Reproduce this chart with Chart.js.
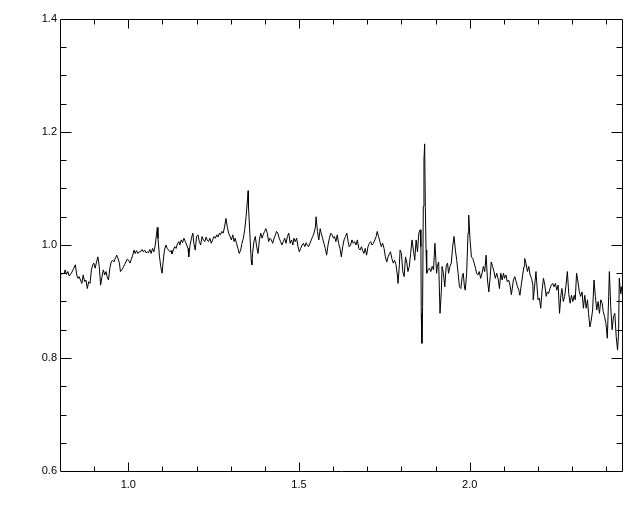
<!DOCTYPE html>
<html>
<head>
<meta charset="utf-8">
<script src="https://cdn.jsdelivr.net/npm/chart.js@4/dist/chart.umd.min.js"></script>
<style>
  html, body { margin: 0; background: #fff; }
</style>
</head>
<body>
<canvas id="spec" width="640" height="512"></canvas>
<script>
// Spectrum
const wavelength = [
  0.800,0.802,0.806,0.812,0.815,0.819,0.823,0.827,0.833,0.839,0.845,0.849,
  0.853,0.856,0.860,0.864,0.868,0.872,0.876,0.880,0.884,0.888,0.892,0.896,
  0.899,0.903,0.907,0.911,0.915,0.919,0.923,0.927,0.931,0.935,0.938,0.942,
  0.946,0.950,0.954,0.958,0.962,0.966,0.970,0.974,0.977,0.981,0.985,0.989,
  0.993,0.997,1.001,1.005,1.009,1.013,1.017,1.020,1.024,1.028,1.032,1.036,
  1.040,1.044,1.048,1.052,1.056,1.059,1.063,1.067,1.071,1.075,1.079,1.083,
  1.085,1.087,1.091,1.095,1.099,1.102,1.106,1.110,1.114,1.118,1.122,1.126,
  1.128,1.132,1.136,1.140,1.144,1.148,1.151,1.155,1.159,1.163,1.167,1.171,
  1.175,1.177,1.181,1.185,1.189,1.192,1.196,1.200,1.204,1.208,1.212,1.216,
  1.220,1.224,1.228,1.231,1.235,1.239,1.243,1.247,1.251,1.255,1.259,1.263,
  1.267,1.270,1.274,1.278,1.282,1.286,1.290,1.294,1.298,1.302,1.306,1.310,
  1.313,1.317,1.321,1.325,1.329,1.333,1.337,1.341,1.345,1.349,1.351,1.352,
  1.356,1.360,1.362,1.364,1.368,1.372,1.376,1.380,1.384,1.388,1.392,1.395,
  1.399,1.403,1.407,1.411,1.415,1.419,1.423,1.427,1.431,1.434,1.438,1.442,
  1.446,1.450,1.454,1.458,
  1.462,1.466,1.470,1.474,1.478,1.482,1.485,1.489,1.493,1.497,1.501,1.505,
  1.509,1.513,1.517,1.521,1.524,1.528,1.532,1.536,1.540,1.544,1.548,1.550,
  1.554,1.558,1.562,1.565,1.569,1.573,1.577,1.581,1.585,1.589,1.593,1.597,
  1.601,1.604,1.608,1.612,1.616,1.620,1.624,1.628,1.632,1.636,1.640,1.644,
  1.647,1.651,1.655,1.659,1.663,1.667,1.671,1.675,1.679,1.683,1.686,1.690,
  1.694,1.698,1.702,1.706,1.710,1.714,1.718,1.722,1.726,1.729,1.733,1.737,
  1.741,1.745,1.749,1.753,1.757,1.761,1.765,1.768,1.772,1.776,1.780,1.784,
  1.788,1.790,1.794,
  1.796,1.800,1.804,1.808,1.812,1.816,1.819,1.823,1.827,1.831,1.835,1.839,
  1.843,1.847,1.851,1.855,1.857,1.858,1.860,1.862,1.864,1.866,1.868,1.870,
  1.872,1.874,1.878,1.882,1.886,1.890,1.894,1.898,1.901,1.903,1.905,1.909,
  1.913,1.917,1.919,1.923,1.927,1.931,1.935,1.938,1.942,1.946,1.950,1.954,
  1.958,1.962,1.966,1.970,1.974,1.978,1.981,1.985,1.987,1.991,1.995,1.997,
  2.001,2.005,2.009,2.013,2.017,2.020,2.024,2.028,2.032,2.036,2.040,2.044,
  2.048,2.052,2.056,2.060,2.063,2.067,2.071,2.075,2.079,2.083,2.087,2.091,
  2.095,2.099,2.102,2.106,2.110,2.114,2.118,2.122,
  2.128,2.132,2.136,2.140,2.144,2.147,2.151,2.155,2.159,2.161,2.165,2.169,
  2.173,2.177,2.181,2.185,2.186,2.190,2.194,2.196,2.200,2.204,2.208,2.212,
  2.216,2.220,2.224,2.227,2.231,2.235,2.239,2.243,2.247,2.251,2.255,2.259,
  2.263,2.267,2.270,2.274,2.278,2.282,2.286,2.290,2.294,2.298,2.302,2.306,
  2.309,2.313,2.317,2.321,2.325,2.329,2.333,2.337,2.341,2.345,2.348,2.352,
  2.356,2.360,2.364,2.368,2.372,2.376,2.380,2.384,2.388,2.391,2.395,2.399,
  2.403,2.407,2.409,2.413,2.417,2.421,2.425,2.429,2.433,2.436,2.438,2.442,
  2.444,2.448
];

const flux = [
  0.940,0.947,0.950,0.949,0.956,0.948,0.953,0.945,0.950,0.957,0.965,0.947,
  0.941,0.944,0.938,0.932,0.947,0.935,0.938,0.923,0.935,0.932,0.956,0.965,
  0.968,0.959,0.970,0.979,0.962,0.929,0.944,0.956,0.947,0.953,0.944,0.938,
  0.959,0.970,0.973,0.970,0.976,0.982,0.976,0.968,0.953,0.956,0.960,0.965,
  0.970,0.975,0.973,0.968,0.975,0.982,0.991,0.985,0.990,0.985,0.988,0.988,
  0.992,0.988,0.991,0.986,0.988,0.986,0.992,0.985,0.994,0.988,1.000,1.021,
  1.031,1.012,0.982,0.962,0.950,0.970,0.991,1.000,0.994,0.991,0.988,0.990,
  0.984,0.991,0.997,0.994,1.002,1.006,1.000,1.009,1.004,1.012,1.006,1.000,
  0.994,0.979,1.000,1.012,1.021,1.003,0.991,1.015,1.018,1.006,1.000,1.015,
  1.009,1.006,1.014,1.009,1.006,1.012,1.003,1.009,1.015,1.012,1.018,1.014,
  1.021,1.018,1.024,1.021,1.032,1.047,1.032,1.021,1.015,1.009,1.018,1.006,
  1.012,1.003,0.994,0.985,0.991,1.003,1.012,1.027,1.050,1.080,1.096,1.068,
  1.021,0.973,0.965,0.985,1.006,1.015,0.997,0.985,1.009,1.021,1.012,1.018,
  1.024,1.029,1.021,1.006,1.012,1.009,1.003,1.012,1.018,1.024,1.021,1.012,
  1.006,1.000,1.006,1.012,
  1.003,1.015,1.021,1.003,1.009,1.000,1.012,1.006,1.012,0.997,0.988,0.994,
  1.000,1.003,0.997,1.004,1.000,0.997,1.003,1.009,1.015,1.021,1.032,1.050,
  1.024,1.009,1.029,1.021,1.012,1.003,0.994,0.982,1.000,1.012,1.021,1.018,
  1.012,1.015,1.006,1.018,1.003,0.994,0.979,0.997,1.009,1.015,1.021,1.006,
  0.997,1.000,1.009,1.003,1.006,1.000,1.009,0.994,0.991,0.997,0.991,0.985,
  0.994,0.982,0.997,1.003,1.006,1.000,1.003,1.009,1.015,1.024,1.015,1.006,
  0.997,1.003,0.994,0.979,0.970,0.979,0.985,0.988,0.976,0.968,0.973,0.965,
  0.947,0.932,0.965,
  0.991,0.985,0.953,0.944,0.979,0.968,0.953,0.962,0.985,1.009,0.991,0.973,
  1.009,0.988,1.021,1.027,0.997,0.879,0.826,0.891,1.068,1.150,1.179,1.068,
  0.991,0.950,0.956,0.959,0.953,0.962,0.956,1.003,0.973,0.950,0.962,0.970,
  0.879,0.920,0.962,0.950,0.926,0.962,0.968,0.950,0.962,0.968,0.997,1.015,
  0.991,0.973,0.950,0.926,0.923,0.944,0.950,0.923,0.920,0.950,1.021,1.053,
  1.009,0.979,0.976,0.968,0.959,0.950,0.947,0.953,0.941,0.950,0.962,0.953,
  0.982,0.938,0.917,0.944,0.970,0.962,0.953,0.941,0.950,0.941,0.923,0.950,
  0.938,0.950,0.941,0.947,0.935,0.938,0.929,0.912,
  0.938,0.944,0.935,0.926,0.920,0.911,0.929,0.947,0.962,0.976,0.967,0.953,
  0.962,0.947,0.941,0.929,0.903,0.926,0.953,0.935,0.903,0.906,0.888,0.920,
  0.941,0.929,0.909,0.917,0.914,0.923,0.929,0.932,0.926,0.932,0.920,0.929,
  0.879,0.911,0.923,0.900,0.909,0.929,0.953,0.914,0.897,0.911,0.900,0.911,
  0.903,0.950,0.935,0.917,0.909,0.917,0.888,0.911,0.888,0.903,0.879,0.855,
  0.867,0.885,0.938,0.909,0.885,0.900,0.879,0.903,0.897,0.882,0.873,0.861,
  0.835,0.909,0.953,0.891,0.850,0.873,0.879,0.838,0.814,0.844,0.941,0.914,
  0.926,0.908
];

// axis ranges and labelled ticks
const xRange = [0.8, 2.446];
const yRange = [0.6, 1.4];
const xLabels = [1.0, 1.5, 2.0];
const yLabels = [0.6, 0.8, 1.0, 1.2, 1.4];

const tickFont = { family: 'Liberation Sans', size: 11 };

// box frame with inward major/minor ticks on all four sides
const boxTicks = {
  id: 'boxTicks',
  afterDraw(chart) {
    const { ctx, chartArea: a, scales: { x, y } } = chart;
    const L = a.left + 0.5, R = a.right + 0.5, T = a.top + 0.5, B = a.bottom + 0.5;
    ctx.save();
    ctx.strokeStyle = '#000';
    ctx.lineWidth = 1;
    ctx.beginPath();
    ctx.rect(L, T, R - L, B - T);
    // x: minor every 0.1, major every 0.5
    for (let i = 9; i <= 24; i++) {
      const px = Math.round(x.getPixelForValue(i / 10)) + 0.5;
      const len = i % 5 === 0 ? 9 : 5;
      ctx.moveTo(px, B); ctx.lineTo(px, B - len);
      ctx.moveTo(px, T); ctx.lineTo(px, T + len);
    }
    // y: minor every 0.05, major every 0.2
    for (let i = 13; i <= 27; i++) {
      const py = Math.round(y.getPixelForValue(i / 20)) + 0.5;
      const len = i % 4 === 0 ? 11 : 6;
      ctx.moveTo(L, py); ctx.lineTo(L + len, py);
      ctx.moveTo(R, py); ctx.lineTo(R - len, py);
    }
    ctx.stroke();
    ctx.restore();
  }
};

new Chart(document.getElementById('spec'), {
  type: 'line',
  data: {
    datasets: [{
      data: wavelength.map((w, i) => ({ x: w, y: flux[i] })),
      borderColor: '#000',
      borderWidth: 1,
      pointRadius: 0,
      tension: 0,
      fill: false
    }]
  },
  options: {
    responsive: false,
    animation: false,
    layout: { padding: { top: 19, right: 18, left: 0, bottom: 0 } },
    plugins: { legend: { display: false }, tooltip: { enabled: false } },
    scales: {
      x: {
        type: 'linear',
        min: xRange[0],
        max: xRange[1],
        grid: { display: false, drawTicks: false },
        border: { display: false },
        afterBuildTicks: s => { s.ticks = xLabels.map(v => ({ value: v })); },
        afterFit: s => { s.height = 41; },
        ticks: {
          color: '#000',
          font: tickFont,
          padding: 7,
          maxRotation: 0,
          autoSkip: false,
          callback: v => Number(v).toFixed(1)
        }
      },
      y: {
        type: 'linear',
        min: yRange[0],
        max: yRange[1],
        grid: { display: false, drawTicks: false },
        border: { display: false },
        afterBuildTicks: s => { s.ticks = yLabels.map(v => ({ value: v })); },
        afterFit: s => { s.width = 60; },
        ticks: {
          color: '#000',
          font: tickFont,
          padding: 3,
          autoSkip: false,
          callback: v => Number(v).toFixed(1)
        }
      }
    }
  },
  plugins: [boxTicks]
});
</script>
</body>
</html>
